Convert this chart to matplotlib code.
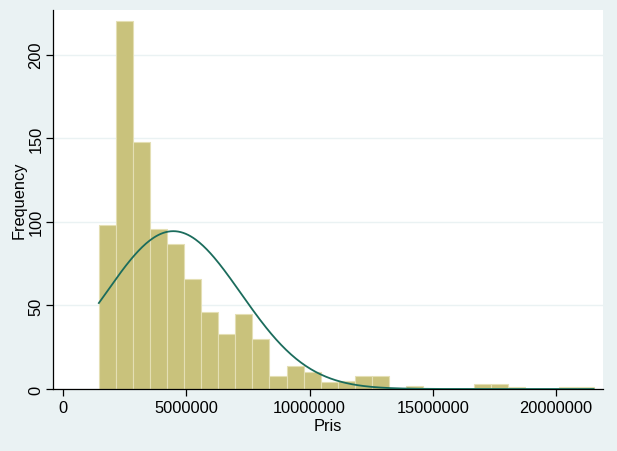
import numpy as np
import matplotlib
matplotlib.use("Agg")
import matplotlib.pyplot as plt

plt.rcParams['font.family'] = ['Liberation Sans', 'DejaVu Sans']

# histogram of Pris, 29 bins
bin_start = 1.45e6
bin_width = 0.692e6
counts = [98, 220, 148, 96, 87, 66, 46, 33, 45, 30,
          8, 14, 10, 4, 5, 8, 8, 0, 2, 0,
          0, 0, 3, 3, 1, 0, 0, 1, 1]

# normal density overlay
mean_pris = 4.47e6
sd_pris = 2.74e6

n = sum(counts)
edges = bin_start + bin_width * np.arange(len(counts) + 1)

bg = '#EAF2F3'
fig = plt.figure(figsize=(6.17, 4.52), dpi=100, facecolor=bg)
ax = fig.add_axes([53/617, 1 - 390/452, 550/617, 379/452])
ax.set_facecolor('white')

ax.bar(edges[:-1], counts, width=bin_width, align='edge',
       color='#C9C27C', edgecolor='#E4DFB4', linewidth=0.8, zorder=2)

xs = np.linspace(edges[0], edges[-1], 400)
ys = n * bin_width / (sd_pris * np.sqrt(2 * np.pi)) * np.exp(-0.5 * ((xs - mean_pris) / sd_pris) ** 2)
ax.plot(xs, ys, color='#1B6C5C', linewidth=1.3, zorder=3)

ax.set_xlim(-0.41e6, 21.9e6)
ax.set_ylim(0, 226.7)
ax.set_xticks([0, 5000000, 10000000, 15000000, 20000000])
ax.set_xticklabels(['0', '5000000', '10000000', '15000000', '20000000'])
ax.set_yticks([0, 50, 100, 150, 200])
ax.set_yticklabels(['0', '50', '100', '150', '200'], rotation=90, va='center')
ax.yaxis.grid(True, color=bg, linewidth=1.0, zorder=0)
ax.set_axisbelow(True)

for s in ['top', 'right']:
    ax.spines[s].set_visible(False)
for s in ['left', 'bottom']:
    ax.spines[s].set_color('black')
    ax.spines[s].set_linewidth(0.9)

ax.tick_params(axis='both', direction='out', length=5, width=0.9, labelsize=11.8, pad=3)
ax.tick_params(axis='y', pad=2)
ax.set_xlabel('Pris', fontsize=11.8, labelpad=2)
ax.set_ylabel('Frequency', fontsize=11.8, labelpad=1)

fig.savefig('out.png', dpi=100, facecolor=bg)
